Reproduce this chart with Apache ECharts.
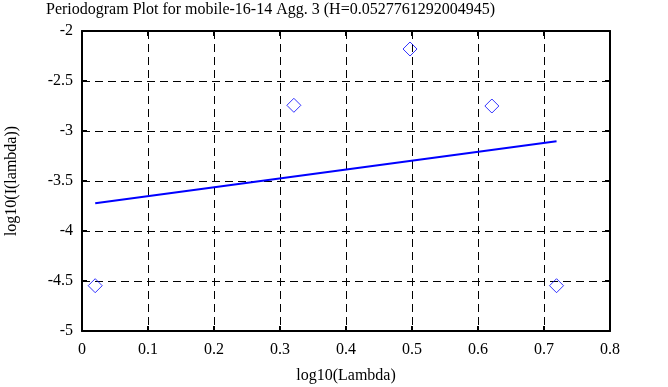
<!DOCTYPE html>
<html>
<head>
<meta charset="utf-8">
<script src="https://cdn.jsdelivr.net/npm/echarts@6/dist/echarts.min.js"></script>
<style>html,body{margin:0;padding:0;background:#fff;}#c{width:668px;height:387px;}</style>
</head>
<body>
<div id="c"></div>
<script>
var pointX = [0.020, 0.321, 0.497, 0.621, 0.719];
var pointY = [-4.547, -2.743, -2.180, -2.750, -4.547];
var fitX = [0.020, 0.719];
var fitY = [-3.723, -3.103];
var titleText = 'Periodogram Plot for mobile-16-14 Agg. 3 (H=0.0527761292004945)';

var font = '"Liberation Serif", "DejaVu Serif", serif';
var chart = echarts.init(document.getElementById('c'), null, {renderer: 'canvas'});
function pairs(xs, ys) { return xs.map(function (x, i) { return [x, ys[i]]; }); }
var axisCommon = {
  axisLine: {show: true, onZero: false, lineStyle: {color: '#000', width: 2}},
  axisTick: {show: true, inside: true, length: 5, lineStyle: {color: '#000', width: 2}},
  splitLine: {show: false}
};
var dash = {show: true, lineStyle: {color: '#000', width: 1, type: [8, 5]}};
chart.setOption({
  animation: false,
  backgroundColor: '#fff',
  title: {text: titleText, left: 46, top: 2, padding: 0,
    textStyle: {fontFamily: font, fontSize: 16, fontWeight: 'normal', color: '#000'}},
  grid: {left: 82, right: 58, top: 31, bottom: 56, show: false, containLabel: false, outerBoundsMode: 'none'},
  xAxis: [
    Object.assign({}, axisCommon, {type: 'value', min: 0, max: 0.8, interval: 0.1, position: 'bottom',
      name: 'log10(Lambda)', nameLocation: 'middle', nameGap: 37,
      nameTextStyle: {fontFamily: font, fontSize: 16, color: '#000'},
      axisLabel: {fontFamily: font, fontSize: 16, color: '#000', margin: 11,
        formatter: function (v) { return String(Math.round(v * 10) / 10); }},
      splitLine: dash}),
    Object.assign({}, axisCommon, {type: 'value', min: 0, max: 0.8, interval: 0.1, position: 'top',
      axisLabel: {show: false}})
  ],
  yAxis: [
    Object.assign({}, axisCommon, {type: 'value', min: -5, max: -2, interval: 0.5, position: 'left',
      name: 'log10(I(lambda))', nameLocation: 'middle', nameGap: 62,
      nameTextStyle: {fontFamily: font, fontSize: 16, color: '#000'},
      axisLabel: {fontFamily: font, fontSize: 16, color: '#000', margin: 9},
      splitLine: dash}),
    Object.assign({}, axisCommon, {type: 'value', min: -5, max: -2, interval: 0.5, position: 'right',
      axisLabel: {show: false}})
  ],
  series: [
    {type: 'scatter', data: pairs(pointX, pointY), symbol: 'diamond', symbolSize: [14, 14],
      itemStyle: {color: 'transparent', borderColor: '#0000ff', borderWidth: 1}, z: 5},
    {type: 'line', data: pairs(fitX, fitY), symbol: 'none',
      lineStyle: {color: '#0000ff', width: 2}, z: 4}
  ]
});
</script>
</body>
</html>
